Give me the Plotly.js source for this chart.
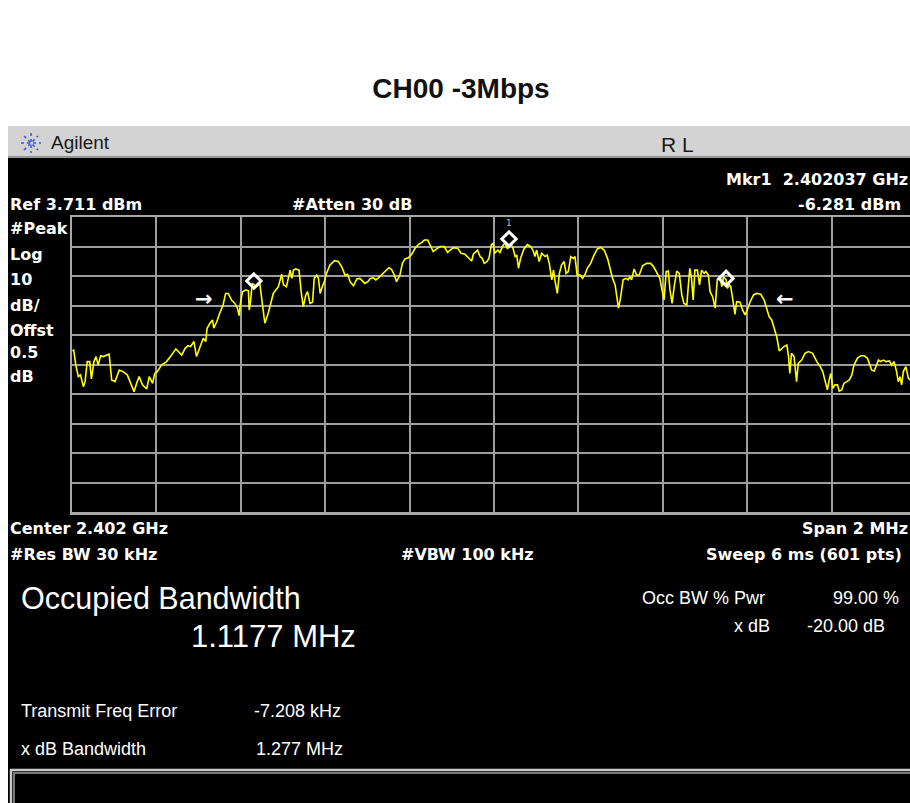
<!DOCTYPE html>
<html>
<head>
<meta charset="utf-8">
<script src="https://cdn.plot.ly/plotly-3.0.1.min.js"></script>
<style>
html,body{margin:0;padding:0;background:#fff;overflow:hidden;width:910px;height:803px;}
#chart{width:925px;height:803px;}
</style>
</head>
<body>
<div id="chart"></div>
<script>
// ---- Data (frequency in MHz, level in dBm) ----
const freqSeg1 = [2401.001,2401.004,2401.009,2401.015,2401.020,2401.027,2401.031,2401.036,2401.042,2401.046,2401.052,2401.057,2401.062,2401.068,2401.074,2401.082,2401.088,2401.094,2401.102,2401.112,2401.121,2401.131,2401.139,2401.147,2401.153,2401.159,2401.167,2401.177,2401.183,2401.191,2401.196,2401.202,2401.212,2401.224,2401.236,2401.246,2401.252,2401.260,2401.268,2401.275,2401.281,2401.289,2401.295,2401.303,2401.311,2401.317,2401.320,2401.327,2401.333,2401.336,2401.343,2401.350,2401.358,2401.364,2401.370,2401.378,2401.386,2401.392,2401.396,2401.399,2401.404,2401.412,2401.418,2401.420,2401.423,2401.427,2401.437,2401.445,2401.452,2401.457,2401.465,2401.473,2401.477,2401.483,2401.489,2401.497,2401.501,2401.508,2401.515];
const levelSeg1 = [-41.7,-41.4,-46.5,-50.4,-49.8,-53.8,-52.1,-45.3,-45.3,-51.2,-45.3,-43.6,-46.5,-43.3,-43.6,-43.1,-42.8,-51.5,-52.1,-48.2,-48.7,-49.8,-52.7,-55.5,-52.7,-50.4,-53.2,-54.6,-50.4,-52.7,-49.3,-48.7,-46.5,-45.3,-43.1,-41.0,-41.9,-43.1,-40.8,-39.9,-40.2,-38.5,-43.6,-40.2,-37.4,-38.5,-34.0,-32.3,-31.2,-34.0,-31.8,-28.9,-26.1,-22.2,-22.2,-24.4,-25.6,-27.2,-29.7,-25.6,-21.6,-21.0,-21.3,-27.8,-25.0,-18.8,-19.9,-18.8,-27.2,-32.3,-28.9,-25.0,-22.2,-21.0,-19.9,-15.7,-19.3,-19.9,-14.8];

const freqSeg2 = [2401.517,2401.521,2401.525,2401.530,2401.538,2401.543,2401.548,2401.554,2401.558,2401.564,2401.570,2401.574,2401.580,2401.584,2401.588,2401.593,2401.598,2401.603,2401.611,2401.622,2401.631,2401.639,2401.647,2401.653,2401.659,2401.667,2401.675,2401.682,2401.688,2401.694,2401.701,2401.707,2401.714,2401.720,2401.726,2401.732,2401.740,2401.751,2401.757,2401.764,2401.769,2401.777,2401.783,2401.789,2401.797,2401.805,2401.813,2401.821,2401.829,2401.835,2401.843,2401.848,2401.856,2401.864,2401.872,2401.882,2401.890,2401.896,2401.904,2401.914,2401.922,2401.931,2401.939,2401.947,2401.951,2401.961,2401.967,2401.972,2401.977,2401.983,2401.988,2401.994,2401.998,2402.002,2402.009,2402.014,2402.022];
const levelSeg2 = [-14.3,-17.1,-14.3,-13.9,-14.3,-21.6,-26.7,-22.7,-21.6,-25.6,-25.2,-17.1,-16.0,-17.1,-22.2,-19.9,-18.2,-15.4,-12.6,-11.1,-11.4,-13.1,-16.0,-15.7,-18.2,-19.6,-17.3,-17.1,-18.0,-18.8,-18.2,-17.1,-16.9,-17.6,-16.9,-16.0,-14.8,-13.5,-14.0,-16.0,-18.2,-16.0,-12.0,-10.5,-10.1,-8.9,-6.9,-5.6,-4.9,-4.1,-4.1,-5.6,-8.0,-7.1,-6.3,-6.3,-8.3,-7.5,-6.7,-6.9,-8.6,-8.9,-10.1,-11.2,-8.9,-7.5,-9.7,-10.3,-12.0,-11.4,-10.3,-5.6,-5.2,-8.6,-7.5,-8.3,-5.8];

const freqSeg3 = [2402.026,2402.032,2402.038,2402.044,2402.050,2402.054,2402.058,2402.063,2402.071,2402.079,2402.087,2402.093,2402.097,2402.101,2402.107,2402.113,2402.121,2402.126,2402.131,2402.137,2402.141,2402.145,2402.150,2402.155,2402.160,2402.166,2402.171,2402.176,2402.182,2402.188,2402.192,2402.197,2402.204,2402.210,2402.216,2402.221,2402.229,2402.237,2402.245,2402.253,2402.261,2402.269,2402.276,2402.281,2402.287,2402.291,2402.295,2402.299,2402.303,2402.306,2402.313,2402.318,2402.322,2402.326,2402.332,2402.338,2402.344,2402.352,2402.362,2402.371,2402.378,2402.385,2402.393,2402.398,2402.403,2402.408,2402.413,2402.417,2402.422,2402.427,2402.433,2402.439,2402.445,2402.450,2402.457,2402.460,2402.464,2402.468,2402.472,2402.476,2402.482,2402.487,2402.492,2402.498,2402.502,2402.508,2402.512,2402.518,2402.524,2402.529,2402.536];
const levelSeg3 = [-5.2,-7.1,-5.8,-6.3,-9.7,-9.2,-13.7,-10.3,-7.1,-5.6,-6.3,-7.8,-9.7,-7.5,-11.4,-8.6,-9.7,-9.2,-12.0,-17.6,-14.3,-18.2,-22.2,-15.4,-12.6,-11.4,-15.4,-14.8,-9.7,-10.3,-9.7,-16.0,-16.0,-17.1,-15.7,-13.7,-12.0,-9.2,-7.1,-6.6,-7.5,-10.3,-14.8,-17.1,-19.3,-23.3,-27.2,-24.4,-19.3,-17.6,-17.1,-17.6,-16.5,-17.6,-13.9,-16.0,-16.0,-12.8,-12.0,-12.0,-13.1,-14.8,-17.1,-21.0,-24.4,-14.8,-14.6,-21.0,-25.6,-19.9,-14.6,-15.4,-22.7,-25.6,-26.1,-20.5,-13.7,-17.1,-24.4,-14.3,-14.3,-19.3,-14.3,-15.4,-14.8,-16.0,-21.6,-23.3,-27.2,-17.6,-17.1];

const freqSeg4 = [2402.540,2402.544,2402.550,2402.553,2402.558,2402.561,2402.566,2402.571,2402.575,2402.583,2402.589,2402.595,2402.600,2402.607,2402.615,2402.622,2402.632,2402.640,2402.646,2402.652,2402.658,2402.664,2402.670,2402.676,2402.682,2402.687,2402.694,2402.698,2402.701,2402.705,2402.711,2402.717,2402.721,2402.729,2402.737,2402.745,2402.755,2402.761,2402.765,2402.773,2402.779,2402.784,2402.790,2402.795,2402.798,2402.803,2402.808,2402.814,2402.818,2402.824,2402.829,2402.836,2402.842,2402.848,2402.853,2402.861,2402.869,2402.877,2402.885,2402.891,2402.895,2402.901,2402.907,2402.911,2402.916,2402.923,2402.929,2402.937,2402.942,2402.948,2402.954,2402.958,2402.962,2402.966,2402.970,2402.976,2402.982,2402.986,2402.995,2403.000];
const levelSeg4 = [-19.9,-16.5,-17.6,-20.5,-19.3,-19.9,-24.4,-29.3,-25.0,-25.2,-27.8,-29.5,-27.8,-25.0,-22.7,-22.2,-22.5,-24.4,-27.2,-30.1,-31.2,-34.0,-36.9,-41.7,-40.8,-40.2,-39.7,-43.6,-49.3,-42.5,-43.6,-52.1,-45.9,-44.8,-42.5,-41.9,-42.5,-44.2,-45.3,-47.0,-48.7,-51.5,-54.9,-51.0,-49.3,-54.4,-53.2,-53.2,-55.3,-54.9,-52.7,-52.1,-51.5,-49.8,-46.5,-44.2,-43.3,-43.3,-44.2,-46.5,-48.2,-48.5,-46.5,-44.8,-45.3,-44.8,-45.3,-45.1,-46.5,-45.3,-48.7,-52.1,-50.4,-53.2,-48.7,-47.0,-51.0,-51.5,-47.5,-46.0];

// Markers (diamonds) and bandwidth arrows
const markerFreq  = [2401.431, 2402.0355, 2402.550];
const markerLevel = [-18.0, -3.75, -17.1];
const arrowFreq   = [2401.313, 2402.690];
const arrowLevel  = [-24.1, -24.1];
const arrowText   = ['\u2192', '\u2190'];

// Axis scale: Ref level / span
const refLevel = 3.711;
const dbPerDiv = 10;
const startFreq = 2401.0;
const stopFreq = 2403.0;

const freq = [].concat(freqSeg1, freqSeg2, freqSeg3, freqSeg4);
const level = [].concat(levelSeg1, levelSeg2, levelSeg3, levelSeg4);

// ---- Layout helpers (pixel -> paper) ----
const L = 72, R = 9, T = 217, B = 291, W = 925, H = 803;
const PW = W - L - R, PH = H - T - B;
const px = x => (x - L) / PW;
const py = y => (H - B - y) / PH;

const traceData = [
  {x: freq, y: level, type: 'scatter', mode: 'lines',
   line: {color: '#ffff00', width: 1.6}, hoverinfo: 'skip'},
  {x: markerFreq, y: markerLevel, type: 'scatter', mode: 'markers',
   marker: {symbol: 'diamond-open', size: 11, color: '#ffffff', line: {width: 3, color: '#ffffff'}},
   hoverinfo: 'skip'}
];

const boldFont = {family: 'DejaVu Sans', size: 16, color: '#ffffff', weight: 'bold'};
const regFont = s => ({family: 'Liberation Sans, Arial', size: s, color: '#ffffff'});

function ann(text, x, y, xanchor, font) {
  const xx = xanchor === 'left' ? x - 3 : (xanchor === 'right' ? x + 3 : x);
  return {text: text, xref: 'paper', yref: 'paper', x: px(xx), y: py(y),
          xanchor: xanchor, yanchor: 'middle', showarrow: false, font: font};
}

const annotations = [
  ann('Agilent', 52, 142, 'left', {family: 'Liberation Sans, Arial', size: 19, color: '#1a1a1a'}),
  ann('R L', 662, 144.5, 'left', {family: 'Liberation Sans, Arial', size: 21, color: '#1a1a1a'}),
  ann('Mkr1 \u00a02.402037 GHz', 727, 179, 'left', boldFont),
  ann('Ref 3.711 dBm', 11, 204, 'left', boldFont),
  ann('#Atten 30 dB', 293, 204, 'left', boldFont),
  ann('-6.281 dBm', 900, 204, 'right', boldFont),
  ann('#Peak', 11, 228, 'left', boldFont),
  ann('Log', 11, 254, 'left', boldFont),
  ann('10', 11, 279, 'left', boldFont),
  ann('dB/', 11, 305, 'left', boldFont),
  ann('Offst', 11, 330, 'left', boldFont),
  ann('0.5', 11, 352, 'left', boldFont),
  ann('dB', 11, 376, 'left', boldFont),
  ann('Center 2.402 GHz', 11, 528, 'left', boldFont),
  ann('Span 2 MHz', 803, 528, 'left', boldFont),
  ann('#Res BW 30 kHz', 11, 554, 'left', boldFont),
  ann('#VBW 100 kHz', 402, 554, 'left', boldFont),
  ann('Sweep 6 ms (601 pts)', 901, 554, 'right', boldFont),
  ann('Occupied Bandwidth', 22, 598, 'left', regFont(30.5)),
  ann('1.1177 MHz', 192, 636.5, 'left', regFont(31)),
  ann('Occ BW % Pwr', 643, 598, 'left', regFont(18)),
  ann('99.00 %', 898, 598, 'right', regFont(18)),
  ann('x dB', 735, 626, 'left', regFont(18)),
  ann('-20.00 dB', 884, 626, 'right', regFont(18)),
  ann('Transmit Freq Error', 22, 711, 'left', regFont(18)),
  ann('-7.208 kHz', 255, 711, 'left', regFont(18)),
  ann('x dB Bandwidth', 22, 749, 'left', regFont(18)),
  ann('1.277 MHz', 257, 749, 'left', regFont(18)),
  {text: '1', xref: 'x', yref: 'y', x: markerFreq[1], y: 1.68, showarrow: false,
   xanchor: 'center', yanchor: 'middle', font: {family: 'DejaVu Sans', size: 9, color: '#b8b8b8'}}
];
arrowFreq.forEach((f, i) => {
  annotations.push({text: arrowText[i], xref: 'x', yref: 'y', x: f, y: arrowLevel[i],
    showarrow: false, xanchor: 'center', yanchor: 'middle',
    font: {family: 'DejaVu Sans', size: 21, color: '#ffffff', weight: 'bold'}});
});

function rect(x0, y0, x1, y1, fill, line) {
  return {type: 'rect', xref: 'paper', yref: 'paper', x0: px(x0), x1: px(x1), y0: py(y1), y1: py(y0),
          fillcolor: fill, line: line || {width: 0}, layer: 'below'};
}
function seg(x0, y0, x1, y1, color, width, dash) {
  return {type: 'line', xref: 'paper', yref: 'paper', x0: px(x0), x1: px(x1), y0: py(y0), y1: py(y1),
          line: {color: color, width: width, dash: dash || 'solid'}, layer: 'above'};
}

const shapes = [
  rect(8, 158, 940, 820, '#000000'),
  rect(8, 126, 940, 157, '#d3d3d3'),
  seg(8, 157, 940, 157, '#7a7a7a', 1.5),
  // entry box at bottom
  seg(10, 770, 940, 770, '#c8c8c8', 2.5),
  seg(13, 773, 940, 773, '#7a7a7a', 2),
  seg(11, 770, 11, 820, '#c8c8c8', 2.5),
  seg(14, 773, 14, 820, '#7a7a7a', 2),
  // Agilent spark logo
  seg(21, 143, 41, 143, '#3a5ae0', 1.6, 'dot'),
  seg(31, 133, 31, 153, '#3a5ae0', 1.6, 'dot'),
  seg(24, 136, 38, 150, '#3a5ae0', 1.6, 'dot'),
  seg(24, 150, 38, 136, '#3a5ae0', 1.6, 'dot')
];

const gridColor = '#9e9e9e';
const layout = {
  width: W, height: H,
  margin: {l: L, r: R, t: T, b: B, pad: 0},
  paper_bgcolor: '#ffffff',
  plot_bgcolor: '#000000',
  showlegend: false,
  title: {text: 'CH00 -3Mbps', x: 461 / W, xanchor: 'center', y: 1 - 88 / H, yanchor: 'middle',
          font: {family: 'Liberation Sans, Arial', size: 28, color: '#111111', weight: 'bold'}},
  xaxis: {range: [startFreq, stopFreq], tick0: startFreq, dtick: 0.2, showticklabels: false, ticks: '',
          showgrid: true, gridcolor: gridColor, gridwidth: 2, zeroline: false,
          showline: true, mirror: true, linecolor: '#a8a8a8', linewidth: 2.5, fixedrange: true},
  yaxis: {range: [refLevel - 10 * dbPerDiv, refLevel], tick0: refLevel, dtick: dbPerDiv, showticklabels: false, ticks: '',
          showgrid: true, gridcolor: gridColor, gridwidth: 2, zeroline: false,
          showline: true, mirror: true, linecolor: '#a8a8a8', linewidth: 2.5, fixedrange: true},
  annotations: annotations,
  shapes: shapes
};

Plotly.newPlot('chart', traceData, layout, {displayModeBar: false, staticPlot: true});
</script>
</body>
</html>
